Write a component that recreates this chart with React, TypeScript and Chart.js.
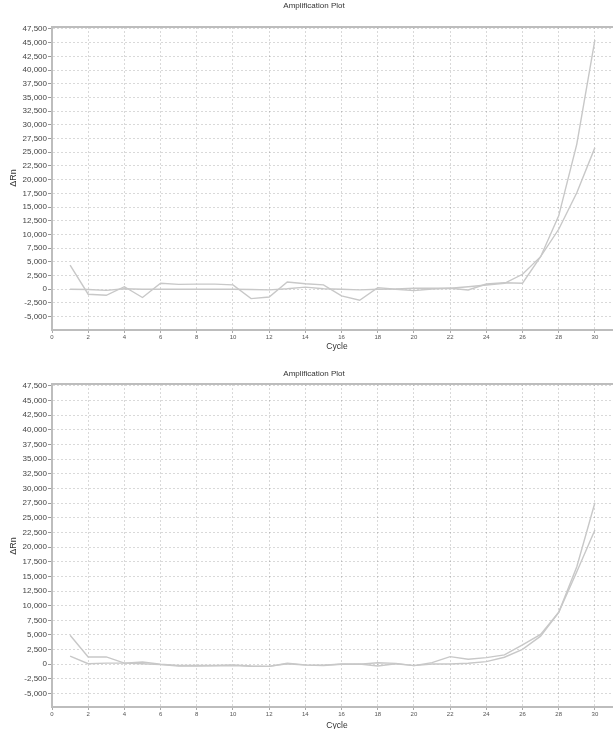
import React, { useEffect, useRef } from "react";
import { Chart, registerables } from "chart.js";

Chart.register(...registerables);

const cycles = Array.from({ length: 30 }, (_, i) => i + 1);
const xTickValues = [0, 2, 4, 6, 8, 10, 12, 14, 16, 18, 20, 22, 24, 26, 28, 30];
const yTickValues = [-5000, -2500, 0, 2500, 5000, 7500, 10000, 12500, 15000, 17500, 20000, 22500, 25000, 27500, 30000, 32500, 35000, 37500, 40000, 42500, 45000, 47500];

const topSeriesA = [4400, -900, -1100, 470, -1500, 1100, 900, 950, 950, 800, -1700, -1400, 1330, 1000, 800, -1200, -2000, 300, 0, -250, 50, 180, -130, 970, 1200, 1100, 5950, 13400, 26500, 45500];
const topSeriesB = [0, -50, -200, 100, 0, 0, 0, 0, 0, 0, -50, -100, 100, 400, 100, 0, -100, 0, 50, 180, 200, 180, 470, 780, 1100, 2740, 5950, 10950, 17600, 25850];

const bottomSeriesA = [4950, 1250, 1250, 200, 400, 0, -200, -200, -200, -100, -300, -350, 170, -100, -150, 50, 0, 270, 150, -230, 280, 1300, 850, 1130, 1600, 3300, 5100, 8870, 16650, 27570];
const bottomSeriesB = [1400, 100, 200, 200, 100, -50, -300, -300, -250, -200, -350, -350, 100, -150, -200, 0, 50, -300, 100, -230, 50, 50, 170, 450, 1200, 2550, 4800, 8870, 15800, 22900];

const chartTitle = "Amplification Plot";
const xTitle = "Cycle";
const yTitle = "ΔRn";

type PanelCfg = {
  height: number;
  padTop: number;
  xScaleHeight: number;
  yMin: number;
  yMax: number;
  titleY: number;
  xTitleY: number;
  yTitleY: number;
  a: number[];
  b: number[];
};

const FONT = "'Liberation Sans', Arial, sans-serif";

function makeTextPlugin(cfg: PanelCfg) {
  return {
    id: "panelText",
    afterDraw(chart: any) {
      const ctx = chart.ctx;
      const area = chart.chartArea;
      ctx.save();
      ctx.strokeStyle = "#bdbdbd";
      ctx.lineWidth = 2;
      ctx.beginPath();
      ctx.moveTo(area.left, area.top);
      ctx.lineTo(area.right, area.top);
      ctx.stroke();
      ctx.fillStyle = "#333";
      ctx.textAlign = "center";
      ctx.textBaseline = "middle";
      ctx.font = `8px ${FONT}`;
      ctx.fillText(chartTitle, 314, cfg.titleY);
      ctx.font = `8.5px ${FONT}`;
      ctx.fillText(xTitle, 337, cfg.xTitleY);
      ctx.translate(14, cfg.yTitleY);
      ctx.rotate(-Math.PI / 2);
      ctx.font = `9px ${FONT}`;
      ctx.fillText(yTitle, 0, 0);
      ctx.restore();
    },
  };
}

function Panel({ cfg }: { cfg: PanelCfg }) {
  const ref = useRef<HTMLCanvasElement | null>(null);
  useEffect(() => {
    if (!ref.current) return;
    const lineColor = "#c8c8c8";
    const chart = new Chart(ref.current, {
      type: "line",
      data: {
        datasets: [
          {
            data: cycles.map((c, i) => ({ x: c, y: cfg.a[i] })),
            borderColor: lineColor,
            borderWidth: 1.4,
            pointRadius: 0,
            tension: 0,
            fill: false,
          },
          {
            data: cycles.map((c, i) => ({ x: c, y: cfg.b[i] })),
            borderColor: lineColor,
            borderWidth: 1.4,
            pointRadius: 0,
            tension: 0,
            fill: false,
          },
        ],
      },
      options: {
        animation: false,
        responsive: false,
        events: [],
        layout: { padding: { top: cfg.padTop, left: 0, right: 0, bottom: 0 } },
        plugins: { legend: { display: false }, tooltip: { enabled: false }, title: { display: false } },
        scales: {
          x: {
            type: "linear",
            min: 0,
            max: 31,
            afterBuildTicks: (s: any) => {
              s.ticks = xTickValues.map((v) => ({ value: v }));
            },
            afterFit: (s: any) => {
              s.height = cfg.xScaleHeight;
            },
            ticks: {
              maxRotation: 0,
              autoSkip: false,
              padding: 1,
              color: "#555",
              font: { size: 6, family: FONT },
            },
            grid: {
              color: "rgba(0,0,0,0.15)",
              tickLength: 3,
              tickColor: "#aaa",
              tickBorderDash: [],
            },
            border: { display: true, color: "#bdbdbd", width: 2, dash: [2, 2] },
          },
          y: {
            type: "linear",
            min: cfg.yMin,
            max: cfg.yMax,
            afterBuildTicks: (s: any) => {
              s.ticks = yTickValues.map((v) => ({ value: v }));
            },
            afterFit: (s: any) => {
              s.width = 52;
            },
            ticks: {
              autoSkip: false,
              padding: 1,
              color: "#444",
              font: { size: 8, family: FONT },
              callback: (v: any) => Number(v).toLocaleString("en-US"),
            },
            grid: {
              color: "rgba(0,0,0,0.15)",
              tickLength: 4,
              tickColor: "#999",
              tickBorderDash: [],
            },
            border: { display: true, color: "#bdbdbd", width: 2, dash: [2, 2] },
          },
        },
      } as any,
      plugins: [makeTextPlugin(cfg)],
    });
    return () => chart.destroy();
  }, [cfg]);
  return <canvas ref={ref} width={613} height={cfg.height} style={{ display: "block", width: 613, height: cfg.height }} />;
}

const topCfg: PanelCfg = {
  height: 358,
  padTop: 27,
  xScaleHeight: 28,
  yMin: -7430,
  yMax: 47860,
  titleY: 6,
  xTitleY: 347,
  yTitleY: 178,
  a: topSeriesA,
  b: topSeriesB,
};

const bottomCfg: PanelCfg = {
  height: 371,
  padTop: 26,
  xScaleHeight: 22,
  yMin: -7290,
  yMax: 47830,
  titleY: 16,
  xTitleY: 368,
  yTitleY: 188,
  a: bottomSeriesA,
  b: bottomSeriesB,
};

export default function App() {
  return (
    <div style={{ position: "absolute", left: 0, top: 0, width: 613, height: 729, background: "#fff", overflow: "hidden" }}>
      <Panel cfg={topCfg} />
      <Panel cfg={bottomCfg} />
    </div>
  );
}
